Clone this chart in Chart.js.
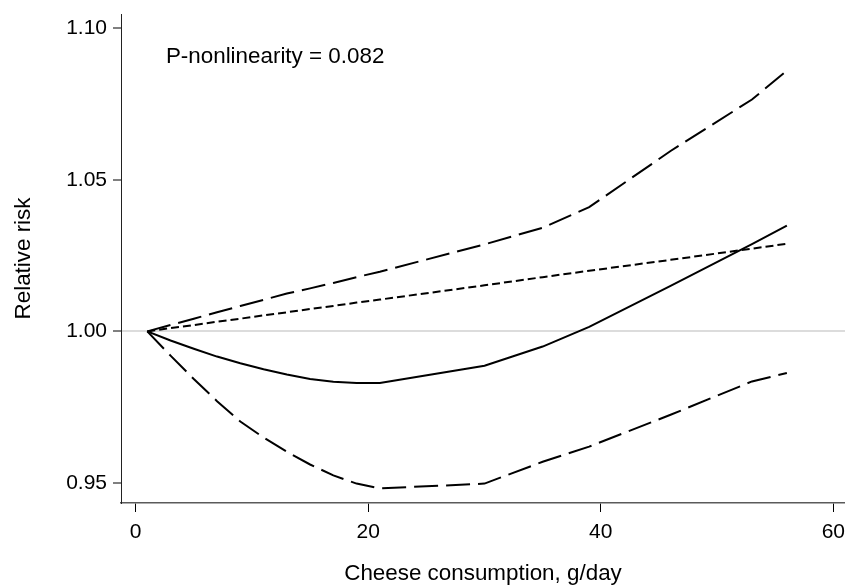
<!DOCTYPE html>
<html>
<head>
<meta charset="utf-8">
<script src="https://cdn.jsdelivr.net/npm/chart.js@4.4.1/dist/chart.umd.min.js"></script>
<style>
  html, body { margin: 0; padding: 0; background: #fff; }
  #wrap { width: 845px; height: 586px; }
</style>
</head>
<body>
<div id="wrap"><canvas id="myChart"></canvas></div>
<script>
// dosis (g/day)
const dosis = [1, 3, 5, 7, 9, 11, 13, 15, 17, 19, 21, 30, 35, 39, 46, 53, 56]

// curvas
const rr_spline = [1.000, 0.9970, 0.9943, 0.9917, 0.9895, 0.9875, 0.9858, 0.9843, 0.9834, 0.9830, 0.9830, 0.9887, 0.9950, 1.0015, 1.0150, 1.0288, 1.0349]
const rr_superior = [1.000, 1.0021, 1.0042, 1.0063, 1.0084, 1.0104, 1.0125, 1.0142, 1.0160, 1.0179, 1.0197, 1.0287, 1.0342, 1.0410, 1.0595, 1.0765, 1.0860]
const rr_inferior = [1.000, 0.9920, 0.9843, 0.9770, 0.9703, 0.9650, 0.9603, 0.9561, 0.9525, 0.9498, 0.9482, 0.9498, 0.9570, 0.9620, 0.9725, 0.9835, 0.9863]
const rr_lineal = [1.000, 1.0011, 1.0021, 1.0032, 1.0042, 1.0053, 1.0063, 1.0074, 1.0084, 1.0095, 1.0105, 1.0152, 1.0179, 1.0200, 1.0236, 1.0273, 1.0289]

const ticks_x = [0, 20, 40, 60]
const ticks_y = [0.95, 1.00, 1.05, 1.10]

const titulo_x = 'Cheese consumption, g/day'
const titulo_y = 'Relative risk'
const nota = 'P-nonlinearity = 0.082'

const fuente = 'Liberation Sans, Arial, Helvetica, sans-serif'

function puntos(valores){
    return dosis.map((d, i) => ({x: d, y: valores[i]}))
}

function serie(valores, dash){
    return {
        data: puntos(valores),
        borderColor: '#000',
        borderWidth: 2,
        borderDash: dash,
        pointRadius: 0,
        tension: 0,
        fill: false
    }
}

// texto P-nonlinearity en coordenadas de datos
const notaPlugin = {
    id: 'nota',
    afterDatasetsDraw(chart){
        const ctx = chart.ctx
        const x = chart.scales.x.getPixelForValue(2.6)
        const y = chart.scales.y.getPixelForValue(1.0885)
        ctx.save()
        ctx.font = '22.4px ' + fuente
        ctx.fillStyle = '#000'
        ctx.textAlign = 'left'
        ctx.textBaseline = 'alphabetic'
        ctx.fillText(nota, x, y)
        ctx.restore()
    }
}

const ctx = document.getElementById('myChart')

new Chart(ctx, {
    type: 'line',
    data: {
        datasets: [
            serie(rr_spline, []),
            serie(rr_superior, [24, 8]),
            serie(rr_inferior, [24, 8]),
            serie(rr_lineal, [8, 4])
        ]
    },
    options: {
        responsive: true,
        maintainAspectRatio: false,
        animation: false,
        layout: { padding: { top: 14, left: 0, right: 0, bottom: 0 } },
        plugins: { legend: { display: false }, tooltip: { enabled: false } },
        scales: {
            x: {
                type: 'linear',
                min: -1.26,
                max: 61,
                afterBuildTicks: (s) => { s.ticks = ticks_x.map(v => ({value: v})) },
                afterFit: (s) => { s.height = 83; s.paddingLeft = 0; s.paddingRight = 0 },
                border: { color: '#5a5a5a', width: 1.5 },
                grid: { drawOnChartArea: false, tickLength: 9, tickColor: '#000', tickWidth: 1 },
                ticks: {
                    color: '#000',
                    padding: 8,
                    maxRotation: 0,
                    font: { family: fuente, size: 21 }
                },
                title: {
                    display: true,
                    text: titulo_x,
                    color: '#000',
                    font: { family: fuente, size: 22.4, lineHeight: 1 },
                    padding: { top: 0, bottom: 1 }
                }
            },
            y: {
                type: 'linear',
                min: 0.9434,
                max: 1.1047,
                afterBuildTicks: (s) => { s.ticks = ticks_y.map(v => ({value: v})) },
                afterFit: (s) => { s.width = 121; s.paddingTop = 0; s.paddingBottom = 0 },
                border: { color: '#222', width: 1 },
                grid: {
                    color: (c) => (c.tick && Math.abs(c.tick.value - 1) < 1e-9) ? '#dcdcdc' : 'rgba(0,0,0,0)',
                    lineWidth: 2,
                    tickLength: 8,
                    tickColor: '#000',
                    tickWidth: 1
                },
                ticks: {
                    color: '#000',
                    padding: 6,
                    font: { family: fuente, size: 21 },
                    callback: (v) => Number(v).toFixed(2)
                },
                title: {
                    display: true,
                    text: titulo_y,
                    color: '#000',
                    font: { family: fuente, size: 22.4, lineHeight: 1 },
                    padding: { top: 13, bottom: 0 }
                }
            }
        }
    },
    plugins: [notaPlugin]
})
</script>
</body>
</html>
